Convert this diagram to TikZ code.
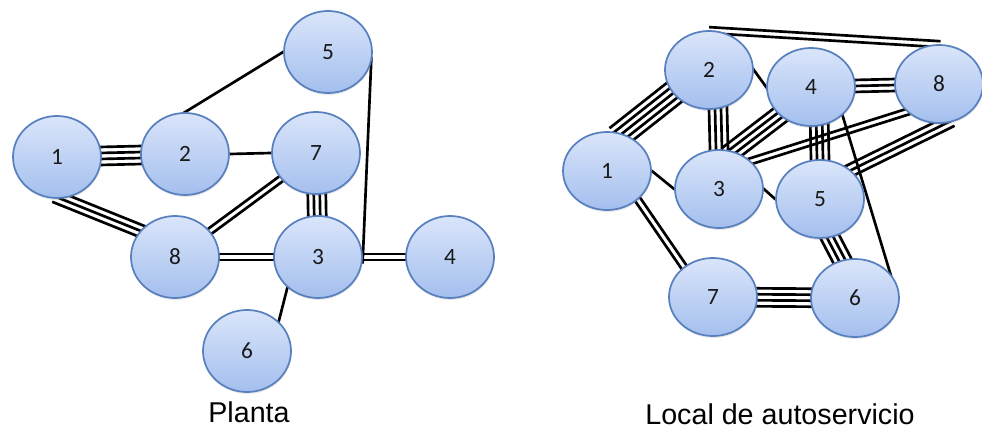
\documentclass[tikz,border=0pt]{standalone}
\usepackage{fontspec}
\setmainfont{Liberation Sans}
\newfontfamily\numfont{Carlito}
\usepackage{tikz}
\usetikzlibrary{calc,shapes.geometric,backgrounds,shadows}
\definecolor{nodeline}{RGB}{88,128,190}
\definecolor{nodetop}{RGB}{218,229,250}
\definecolor{nodebot}{RGB}{164,191,238}

\newcommand{\edgebundle}[4][]{%
  \foreach \k in {1,...,#2} {
    \pgfmathsetmacro{\off}{(\k-(#2+1)/2)*4.5}
    \draw[edge,#1] ($(#3)!\off pt!90:(#4)$) -- ($(#4)!\off pt!-90:(#3)$);
  }}

\begin{document}
\begin{tikzpicture}[x=0.75pt,y=-0.75pt,
  puesto/.style={ellipse,draw=nodeline,line width=1.3pt,top color=nodetop,bottom color=nodebot,
    minimum width=66pt,minimum height=61.5pt,inner sep=0pt,text=black!90,
    font=\numfont\fontsize{17.5}{19}\selectfont,
    drop shadow={shadow xshift=0.4pt,shadow yshift=-1.5pt,opacity=0.18,fill=black!50}},
  edge/.style={line width=2pt,shorten <=-5pt,shorten >=-5pt},
  rotulo/.style={font=\fontsize{21.5}{24}\selectfont,anchor=base}]
        \useasboundingbox (0,0) rectangle (982,438);
        % Planta
        \node[puesto] (l1) at (57,157) {1};
        \node[puesto] (l2) at (185,154) {2};
        \node[puesto] (l5) at (328,52) {5};
        \node[puesto] (l7) at (316,153) {7};
        \node[puesto] (l8) at (175,257) {8};
        \node[puesto] (l3) at (318,257) {3};
        \node[puesto] (l4) at (450,257) {4};
        \node[puesto] (l6) at (247,351) {6};
        \node[rotulo] (tl) at (249,422) {Planta};
        % Local de autoservicio
        \begin{scope}[puesto/.append style={minimum height=58.5pt}]
          \node[puesto] (r2) at (709,70) {2};
          \node[puesto] (r4) at (811,87) {4};
          \node[puesto] (r8) at (939,84) {8};
          \node[puesto] (r1) at (607,171) {1};
          \node[puesto] (r3) at (719,189) {3};
          \node[puesto] (r5) at (820,199) {5};
          \node[puesto] (r7) at (713,297) {7};
          \node[puesto] (r6) at (855,298) {6};
        \end{scope}
        \node[rotulo] (tr) at (780,424) {Local de autoservicio};
        \begin{scope}[on background layer]
          \edgebundle{4}{l1}{l2}
          \edgebundle{3}{l1.-85}{l8.143}
          \edgebundle{1}{l2.north}{l5.west}
          \edgebundle{1}{l2.east}{l7.west}
          \edgebundle{2}{l8}{l7}
          \edgebundle{4}{l7}{l3}
          \edgebundle{2}{l8}{l3}
          \edgebundle{2}{l3}{l4}
          \edgebundle{1}{l5.-15}{l3.east}
          \edgebundle{1}{l3.225}{l6.43}
          \edgebundle{5}{r1.68}{r2.213}
          \edgebundle{4}{r2.-77}{r3.north}
          \edgebundle{1}{r1.east}{r3.west}
          \edgebundle{2}{r1.-43}{r7.134}
          \edgebundle{1}{r2.east}{r4.west}
          \edgebundle[shorten <=0pt,shorten >=-1pt]{2}{r2.north}{r8.north}
          \edgebundle{4}{r3.70}{r4.222}
          \edgebundle{2}{r3.41}{r8.221}
          \edgebundle{3}{r4}{r8}
          \edgebundle{4}{r4.-78}{r5.north}
          \edgebundle{3}{r5.43}{r8.-80}
          \edgebundle{1}{r3.east}{r5.west}
          \edgebundle{1}{r4.-42}{r6.35}
          \edgebundle{4}{r5.-75}{r6.109}
          \edgebundle{4}{r7}{r6}
        \end{scope}
      \end{tikzpicture}
\end{document}
